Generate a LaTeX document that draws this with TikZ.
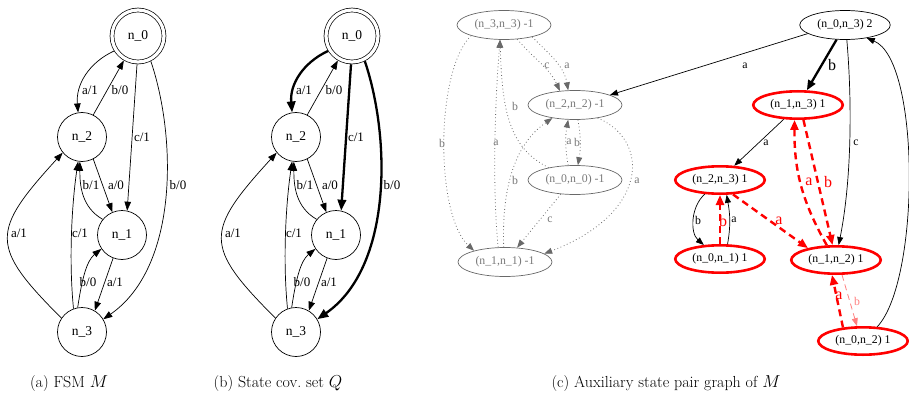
\documentclass[tikz,border=0pt]{standalone}
\usepackage{fontspec}
\newfontfamily\gv{Liberation Serif}
\usetikzlibrary{arrows.meta,shapes.geometric}

\definecolor{gvgrey}{RGB}{105,105,105}
\definecolor{gvgreytext}{RGB}{120,120,120}
\definecolor{gvpink}{RGB}{255,128,128}

\tikzset{
  fsmstate/.style={circle, draw, line width=0.7pt, minimum size=49pt, inner sep=0pt,
    font=\gv\fontsize{13.5}{15}\selectfont},
  initstate/.style={fsmstate, minimum size=52pt, double, double distance=3.2pt, outer sep=2.3pt},
  fsmlabel/.style={font=\gv\fontsize{13}{15}\selectfont, inner sep=0pt},
  thinedge/.style={draw, line width=0.7pt, -{Triangle[length=9pt,width=6.5pt]}},
  thickedge/.style={draw, line width=2.3pt, -{Triangle[length=11pt,width=8.5pt]}},
  pairnode/.style={ellipse, inner sep=0pt, font=\gv\fontsize{11.8}{13}\selectfont},
  greypair/.style={pairnode, draw=gvgrey, text=gvgreytext, line width=0.7pt,
    minimum width=94pt, minimum height=29pt},
  blackpair/.style={pairnode, draw, line width=0.7pt, minimum width=90.5pt, minimum height=29pt},
  redpair/.style={pairnode, draw=red, line width=2.6pt, minimum width=89.5pt, minimum height=27.4pt},
  greyedge/.style={draw=gvgrey, line width=0.8pt, dash pattern=on 0.8pt off 2.6pt,
    -{Triangle[length=8pt,width=6pt,fill=gvgrey]}},
  blackedge/.style={draw, line width=0.7pt, -{Triangle[length=8pt,width=6pt]}},
  blackthick/.style={draw, line width=2.3pt, -{Triangle[length=10pt,width=8pt]}},
  rededge/.style={draw=red, line width=2.4pt, dash pattern=on 7pt off 4.5pt,
    -{Triangle[length=10pt,width=8pt,fill=red]}},
  pinkedge/.style={draw=gvpink, line width=0.8pt, dash pattern=on 6pt off 4pt,
    -{Triangle[length=8pt,width=6pt,fill=gvpink]}},
  pairlabel/.style={font=\gv\fontsize{11.8}{13}\selectfont, inner sep=0pt},
  biglabel/.style={font=\gv\fontsize{16}{18}\selectfont, inner sep=0pt},
  caption/.style={font=\fontsize{16}{18}\selectfont, inner sep=0pt, anchor=base},
}

% One FSM drawing; #1 is the node-name prefix.  The styles eA, eC, eB
% select the look of the edges n_0->n_2, n_0->n_1 and n_0->n_3.
\newcommand\fsmdrawing[1]{%
  \node[initstate] (#10) at (138,36) {n\_0};
  \node[fsmstate] (#12) at (82,137) {n\_2};
  \node[fsmstate] (#11) at (122,235) {n\_1};
  \node[fsmstate] (#13) at (82,332) {n\_3};
  % edges out of n_0
  \draw[eA] (#10.212) to[out=205,in=95] (#12.99);
  \draw[eC] (#10.268) -- (#11.78);
  \draw[eB] (#10.297) .. controls +(26,77) and +(75,-52) .. (#13.31);
  % remaining edges
  \draw[thinedge] (#12.63) -- (#10.240);
  \draw[thinedge] (#12.297) -- (#11.113);
  \draw[thinedge] (#11.141) to[out=150,in=-90] (#12.265);
  \draw[thinedge] (#13.146) .. controls +(-72,-72) and +(-72,79) .. (#12.219);
  \draw[thinedge] (#13.110) .. controls +(-5,-50) and +(-6,40) .. (#12.261);
  \draw[thinedge] (#13.100) .. controls +(4,-27) and +(-15,12) .. (#11.214);
  \draw[thinedge] (#11.249) -- (#13.59);
  % transition labels
  \node[fsmlabel] (#1la) at (90,90) {a/1};
  \node[fsmlabel] (#1lb) at (120,90) {b/0};
  \node[fsmlabel] (#1lc) at (142,137) {c/1};
  \node[fsmlabel] (#1ld) at (178,185) {b/0};
  \node[fsmlabel] (#1le) at (116,185) {a/0};
  \node[fsmlabel] (#1lf) at (91,185) {b/1};
  \node[fsmlabel] (#1lg) at (19,233) {a/1};
  \node[fsmlabel] (#1lh) at (80,233) {c/1};
  \node[fsmlabel] (#1li) at (88,282) {b/0};
  \node[fsmlabel] (#1lj) at (115,282) {a/1};
}

\begin{document}
\begin{tikzpicture}[x=1pt, y=-1pt]
\useasboundingbox (0,0) rectangle (909,401);

% (a) the FSM
\begin{scope}[eA/.style=thinedge, eB/.style=thinedge, eC/.style=thinedge]
  \fsmdrawing{a}
\end{scope}

% (b) the same FSM with the state cover in bold
\begin{scope}[xshift=214pt, eA/.style=thickedge, eB/.style=thickedge, eC/.style=thickedge]
  \fsmdrawing{b}
\end{scope}

% (c) auxiliary state pair graph
\node[greypair] (N33) at (504,25) {(n\_3,n\_3) -1};
\node[greypair] (N22) at (575,105) {(n\_2,n\_2) -1};
\node[greypair] (N00) at (575,180) {(n\_0,n\_0) -1};
\node[greypair] (N11) at (505,262) {(n\_1,n\_1) -1};
\node[blackpair] (N03) at (845,25) {(n\_0,n\_3) 2};
\node[redpair] (N13) at (798,105) {(n\_1,n\_3) 1};
\node[redpair] (N23) at (720,180) {(n\_2,n\_3) 1};
\node[redpair] (N01) at (720,259) {(n\_0,n\_1) 1};
\node[redpair] (N12) at (836,260) {(n\_1,n\_2) 1};
\node[redpair] (N02) at (863,341) {(n\_0,n\_2) 1};

% pairs of equal states
\draw[greyedge] (N33.313) to[out=-50,in=115] (N22.137);
\draw[greyedge] (N33.337) to[out=-45,in=100] (N22.115);
\draw[greyedge] (N00.155) .. controls +(-40,-20) and +(2,70) .. (N33.255);
\draw[greyedge] (N11.115) .. controls +(-6,-60) and +(-5,60) .. (N33.255);
\draw[greyedge] (N11.95) .. controls +(-2,-57) and +(-39,27) .. (N22.210);
\draw[greyedge] (N22.281) to[out=-80,in=80] (N00.79);
\draw[greyedge] (N00.115) to[out=100,in=-100] (N22.245);
\draw[greyedge] (N00.225) -- (N11.50);
\draw[greyedge] (N22.330) .. controls +(53,22) and +(105,-40) .. (N11.12);
\draw[greyedge] (N33.198) .. controls +(-36,35) and +(-39,-36) .. (N11.160);

\node[pairlabel, text=gvgreytext] (gl1) at (547,66) {c};
\node[pairlabel, text=gvgreytext] (gl2) at (567,66) {a};
\node[pairlabel, text=gvgreytext] (gl3) at (515,106) {b};
\node[pairlabel, text=gvgreytext] (gl4) at (496,143) {a};
\node[pairlabel, text=gvgreytext] (gl5) at (442,143) {b};
\node[pairlabel, text=gvgreytext] (gl6) at (515,180) {b};
\node[pairlabel, text=gvgreytext] (gl7) at (569,142) {a};
\node[pairlabel, text=gvgreytext] (gl8) at (577,142) {b};
\node[pairlabel, text=gvgreytext] (gl9) at (550,220) {c};
\node[pairlabel, text=gvgreytext] (gl10) at (637,181) {a};

% edges out of the start pair and between the other pairs
\draw[blackedge] (N03.193) -- (N22.16);
\draw[blackthick] (N03.240) -- (N13.59);
\draw[blackedge] (N03.277) .. controls +(6,70) and +(12,-60) .. (N12.80);
\draw[blackedge] (N02.45) .. controls +(43,-46) and +(54,22) .. (N03.329);
\draw[blackedge] (N13.225) -- (N23.45);
\draw[blackedge] (N23.223) .. controls +(-14,12) and +(-14,-12) .. (N01.139);
\draw[blackedge] (N01.63) to[out=80,in=-80] (N23.294);

\node[pairlabel] (bl1) at (745,66) {a};
\node[biglabel] (bl2) at (832,65) {b};
\node[pairlabel] (bl3) at (856,143) {c};
\node[pairlabel] (bl4) at (766,143) {a};
\node[pairlabel] (bl5) at (698,220) {b};
\node[pairlabel] (bl6) at (734,220) {a};

% distinguishing edges
\draw[rededge] (N01.90) -- (N23.270);
\draw[rededge] (N23.-48) -- (N12.157);
\draw[rededge] (N12.122) to[bend left=15] (N13.257);
\draw[rededge] (N13.290) -- (N12.103);
\draw[rededge] (N02.146) -- (N12.255);
\draw[pinkedge] (N12.292) -- (N02.112);

\node[biglabel, text=red] (rl1) at (723,221) {b};
\node[biglabel, text=red] (rl2) at (779,221) {a};
\node[biglabel, text=red] (rl3) at (809,182) {a};
\node[biglabel, text=red] (rl4) at (828,182) {b};
\node[biglabel, text=red] (rl5) at (839,296) {a};
\node[pairlabel, text=gvpink] (rl6) at (857,301) {b};

% sub-captions
\node[caption] (capa) at (69,387) {(a) FSM $M$};
\node[caption] (capb) at (278,387) {(b) State cov.\ set $Q$};
\node[caption] (capc) at (666,387) {(c) Auxiliary state pair graph of $M$};
\end{tikzpicture}
\end{document}
